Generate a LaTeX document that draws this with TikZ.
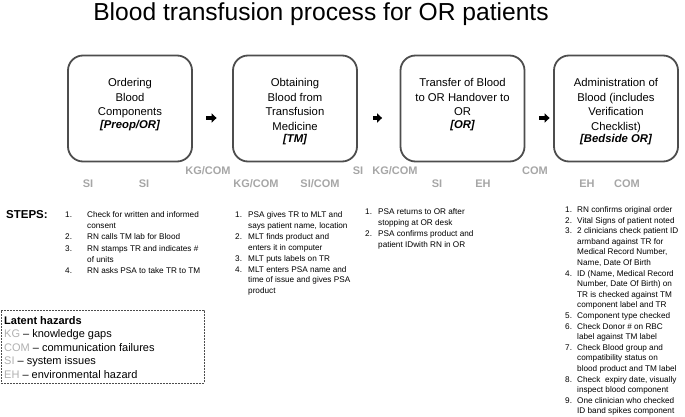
\documentclass[tikz,border=0pt]{standalone}
\usepackage{fontspec}
\setmainfont{Liberation Sans}
\usetikzlibrary{arrows.meta}
\definecolor{boxline}{HTML}{4D4D4D}
\definecolor{hazgray}{HTML}{A6A6A6}
\definecolor{leggray}{HTML}{B0B0B0}
\begin{document}
\begin{tikzpicture}[x=1pt,y=-1pt,
  stage/.style={draw=boxline, line width=1.8pt, rounded corners=15pt, minimum width=124pt, minimum height=106pt, inner sep=0pt},
  stagetext/.style={align=center, inner sep=0pt, anchor=north, font=\fontsize{11.3}{14.5}\selectfont},
  haz/.style={text=hazgray, font=\bfseries\fontsize{11}{13}\selectfont, inner sep=0pt},
  flow/.style={-{Triangle[length=5pt,width=9pt]}, line width=3.5pt},
  steplist/.style={anchor=base west, inner sep=0pt, align=left},
]
\useasboundingbox (0,0) rectangle (685,417);

% title
\node[anchor=base, inner sep=0pt, font=\fontsize{24.6}{28}\selectfont] (title) at (321,21) {Blood transfusion process for OR patients};

% stage boxes
\node[stage] (b1) at (130,108.5) {};
\node[stage] (b2) at (295,108.5) {};
\node[stage] (b3) at (462.5,108.5) {};
\node[stage] (b4) at (616,108.5) {};

\node[stagetext] (t1) at (130,78.5) {Ordering\\Blood\\Components\\[-2pt]{\bfseries\itshape [Preop/OR]}};
\node[stagetext] (t2) at (295,78.5) {Obtaining\\Blood from\\Transfusion\\Medicine\\[-2pt]{\bfseries\itshape [TM]}};
\node[stagetext] (t3) at (462.5,78.5) {Transfer of Blood\\to OR Handover to\\OR\\[-2pt]{\bfseries\itshape [OR]}};
\node[stagetext] (t4) at (616,78.5) {Administration of\\Blood (includes\\Verification\\Checklist)\\[-2pt]{\bfseries\itshape [Bedside OR]}};

% flow arrows
\draw[flow, shorten <=13.5pt, shorten >=15.5pt] ([yshift=-9.5pt]b1.east) -- ([yshift=-9.5pt]b2.west);
\draw[flow, shorten <=15pt, shorten >=17.5pt] ([yshift=-9.5pt]b2.east) -- ([yshift=-9.5pt]b3.west);
\draw[flow, shorten <=14pt, shorten >=3.5pt] ([yshift=-9.5pt]b3.east) -- ([yshift=-9.5pt]b4.west);

% hazard labels
\node[haz] (h1) at (88,184) {SI};
\node[haz] (h2) at (144,184) {SI};
\node[haz] (h3) at (208,171) {KG/COM};
\node[haz] (h4) at (256,184) {KG/COM};
\node[haz] (h5) at (320,184) {SI/COM};
\node[haz] (h6) at (358,171) {SI};
\node[haz] (h7) at (395,171) {KG/COM};
\node[haz] (h8) at (437,184) {SI};
\node[haz] (h9) at (483,184) {EH};
\node[haz] (h10) at (535,171) {COM};
\node[haz] (h11) at (587,184) {EH};
\node[haz] (h12) at (627,184) {COM};

% steps
\node[anchor=base west, inner sep=0pt, font=\bfseries\fontsize{11.5}{13}\selectfont] (steps) at (6,218) {STEPS:};

\node[steplist] (s1) at (65,217.5) {\fontsize{8.2}{11.2}\selectfont\begin{tabular}[t]{@{}p{22pt}@{}l@{}}
1. & Check for written and informed\\
   & consent\\
2. & RN calls TM lab for Blood\\
3. & RN stamps TR and indicates \#\\
   & of units\\
4. & RN asks PSA to take TR to TM
\end{tabular}};

\node[steplist] (s2) at (235,217.5) {\fontsize{8.2}{10.9}\selectfont\begin{tabular}[t]{@{}p{13pt}@{}l@{}}
1. & PSA gives TR to MLT and\\
   & says patient name, location\\
2. & MLT finds product and\\
   & enters it in computer\\
3. & MLT puts labels on TR\\
4. & MLT enters PSA name and\\
   & time of issue and gives PSA\\
   & product
\end{tabular}};

\node[steplist] (s3) at (365,214.5) {\fontsize{8.2}{11}\selectfont\begin{tabular}[t]{@{}p{13pt}@{}l@{}}
1. & PSA returns to OR after\\
   & stopping at OR desk\\
2. & PSA confirms product and\\
   & patient IDwith RN in OR
\end{tabular}};

\node[steplist] (s4) at (565,212.5) {\fontsize{8.2}{10.6}\selectfont\begin{tabular}[t]{@{}p{12pt}@{}l@{}}
1. & RN confirms original order\\
2. & Vital Signs of patient noted\\
3. & 2 clinicians check patient ID\\
   & armband against TR for\\
   & Medical Record Number,\\
   & Name, Date Of Birth\\
4. & ID (Name, Medical Record\\
   & Number, Date Of Birth) on\\
   & TR is checked against TM\\
   & component label and TR\\
5. & Component type checked\\
6. & Check Donor \# on RBC\\
   & label against TM label\\
7. & Check Blood group and\\
   & compatibility status on\\
   & blood product and TM label\\
8. & Check\ \ expiry date, visually\\
   & inspect blood component\\
9. & One clinician who checked\\
   & ID band spikes component
\end{tabular}};

% legend
\node[draw=boxline, dash pattern=on 2pt off 1pt, line width=0.7pt, minimum width=203pt, minimum height=73pt, anchor=north west, inner sep=0pt] (leg) at (0.6,310) {};
\node[anchor=north west, inner sep=0pt, align=left, font=\fontsize{11}{13.6}\selectfont] (legt) at (4,316) {\textbf{Latent hazards}\\
{\color{leggray}KG} -- knowledge gaps\\
{\color{leggray}COM} -- communication failures\\
{\color{leggray}SI} -- system issues\\
{\color{leggray}EH} -- environmental hazard};
\end{tikzpicture}
\end{document}
